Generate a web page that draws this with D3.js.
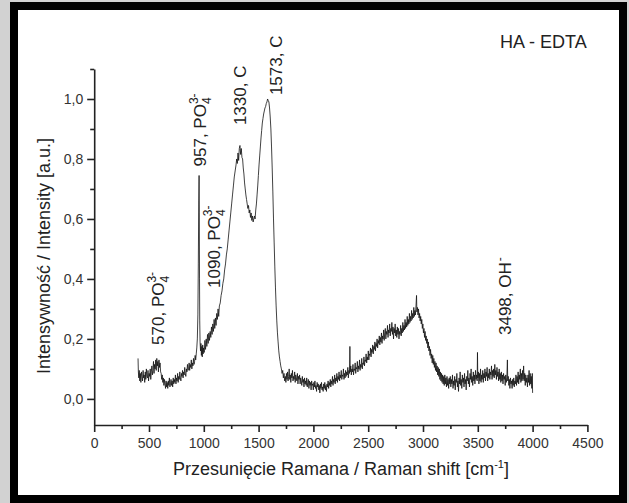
<!DOCTYPE html>
<html>
<head>
<meta charset="utf-8">
<script src="https://cdn.jsdelivr.net/npm/d3@7"></script>
<style>
  body { margin: 0; background: #d2d2d2; }
  svg { display: block; }
  svg text { font-family: "Liberation Sans", Arial, sans-serif; }
</style>
</head>
<body>
<svg id="chart"></svg>
<script>
// Raman spectrum HA - EDTA, [shift cm-1, intensity a.u.]
const spectrum = [
  [400,0.135],[403,0.09],[407,0.07],[411,0.095],[416,0.06],[421,0.085],[426,0.055],[431,0.09],[436,0.075],[441,0.06],
  [446,0.095],[451,0.07],[456,0.08],[461,0.055],[466,0.09],[471,0.065],[476,0.10],[481,0.075],[486,0.07],[491,0.095],
  [496,0.06],[501,0.085],[506,0.075],[511,0.10],[516,0.065],[521,0.09],[526,0.11],[531,0.08],[536,0.095],[541,0.125],
  [546,0.085],[551,0.115],[556,0.10],[561,0.13],[566,0.095],[571,0.135],[576,0.11],[581,0.125],[586,0.09],[591,0.13],
  [596,0.105],[601,0.12],[606,0.09],[611,0.085],[616,0.065],[621,0.08],[626,0.055],[631,0.07],[636,0.045],[641,0.065],
  [646,0.05],[651,0.035],[656,0.06],[661,0.04],[666,0.055],[671,0.035],[676,0.06],[681,0.045],[686,0.07],[691,0.04],
  [696,0.05],[701,0.065],[706,0.045],[711,0.06],[716,0.04],[721,0.07],[726,0.05],[731,0.065],[736,0.055],[741,0.08],
  [746,0.05],[751,0.07],[756,0.06],[761,0.085],[766,0.055],[771,0.075],[776,0.065],[781,0.09],[786,0.07],[791,0.06],
  [796,0.085],[801,0.075],[806,0.095],[811,0.07],[816,0.09],[821,0.08],[826,0.105],[831,0.085],[836,0.075],[841,0.10],
  [846,0.09],[851,0.115],[856,0.095],[861,0.10],[866,0.12],[871,0.095],[876,0.115],[881,0.105],[886,0.13],[891,0.10],
  [896,0.12],[901,0.11],[906,0.135],[911,0.115],[916,0.125],[921,0.145],[926,0.13],[931,0.15],[936,0.17],[941,0.20],
  [946,0.28],[950,0.45],[954,0.66],[957,0.745],[959,0.62],[961,0.40],[963,0.26],[966,0.19],
  [970,0.16],[974,0.185],[978,0.145],[982,0.175],[986,0.14],[990,0.18],[994,0.15],[998,0.17],[1004,0.155],[1010,0.195],
  [1016,0.165],[1022,0.20],[1028,0.175],[1034,0.215],[1040,0.185],[1046,0.22],[1052,0.195],[1058,0.225],[1064,0.205],[1070,0.24],
  [1076,0.215],[1082,0.25],[1088,0.225],[1094,0.265],[1100,0.235],[1106,0.27],[1112,0.245],[1118,0.285],[1124,0.265],[1130,0.30],
  [1136,0.275],[1142,0.31],[1150,0.32],[1158,0.345],[1166,0.36],[1174,0.385],[1182,0.40],[1190,0.43],[1198,0.45],[1206,0.48],
  [1214,0.50],[1222,0.53],[1230,0.56],[1238,0.59],[1246,0.62],[1254,0.65],[1262,0.68],[1270,0.71],[1278,0.74],[1286,0.76],
  [1294,0.78],[1300,0.80],[1306,0.785],[1312,0.82],[1318,0.795],[1324,0.835],[1330,0.845],[1336,0.815],[1342,0.835],[1348,0.805],
  [1354,0.80],[1360,0.77],[1366,0.75],[1372,0.72],[1378,0.70],[1384,0.68],[1390,0.665],[1396,0.65],[1402,0.635],[1408,0.645],
  [1414,0.62],[1420,0.63],[1426,0.605],[1432,0.62],[1438,0.595],[1444,0.61],[1450,0.59],[1456,0.60],[1462,0.61],[1468,0.60],
  [1474,0.63],[1480,0.65],[1486,0.68],[1492,0.71],[1498,0.745],[1504,0.78],[1510,0.81],[1516,0.84],[1522,0.87],[1528,0.895],
  [1534,0.92],[1540,0.935],[1546,0.95],[1552,0.96],[1558,0.97],[1564,0.975],[1570,0.985],[1576,0.99],[1582,1.0],[1588,0.995],
  [1594,0.99],[1600,0.97],[1606,0.94],[1612,0.90],[1618,0.84],[1624,0.77],[1630,0.69],[1636,0.60],[1642,0.52],[1648,0.44],
  [1654,0.37],[1660,0.31],[1666,0.26],[1672,0.22],[1678,0.19],[1684,0.16],[1690,0.14],[1696,0.125],[1702,0.11],[1708,0.10],
  [1714,0.085],[1720,0.095],[1726,0.07],[1732,0.085],[1738,0.06],
  [1744,0.075],[1749,0.055],[1754,0.085],[1759,0.065],[1764,0.09],[1769,0.06],[1774,0.075],[1779,0.10],[1784,0.065],[1789,0.08],
  [1794,0.055],[1799,0.085],[1804,0.07],[1809,0.095],[1814,0.06],[1819,0.075],[1824,0.065],[1829,0.09],[1834,0.055],[1839,0.08],
  [1844,0.07],[1849,0.06],[1854,0.085],[1859,0.05],[1864,0.075],[1869,0.065],[1874,0.08],[1879,0.05],[1884,0.07],[1889,0.06],
  [1894,0.045],[1899,0.075],[1904,0.055],[1909,0.065],[1914,0.04],[1919,0.07],[1924,0.05],[1929,0.06],[1934,0.045],[1939,0.07],
  [1944,0.04],[1949,0.055],[1954,0.065],[1959,0.035],[1964,0.06],[1969,0.045],[1974,0.055],[1979,0.03],[1984,0.06],[1989,0.045],
  [1994,0.05],[1999,0.03],[2004,0.055],[2009,0.04],[2014,0.06],[2019,0.035],[2024,0.045],[2029,0.025],[2034,0.055],[2039,0.04],
  [2044,0.05],[2049,0.03],[2054,0.045],[2059,0.02],[2064,0.05],[2069,0.035],[2074,0.055],[2079,0.03],[2084,0.04],[2089,0.025],
  [2094,0.05],[2099,0.035],[2104,0.055],[2109,0.03],[2114,0.045],[2119,0.025],[2124,0.05],[2129,0.04],[2134,0.06],[2139,0.035],
  [2144,0.055],[2149,0.045],[2154,0.065],[2159,0.04],[2164,0.06],[2169,0.05],[2174,0.075],[2179,0.045],[2184,0.065],[2189,0.055],
  [2194,0.08],[2199,0.05],[2204,0.07],[2209,0.06],[2214,0.085],[2219,0.055],[2224,0.075],[2229,0.065],[2234,0.09],[2239,0.06],
  [2244,0.08],[2249,0.07],[2254,0.095],[2259,0.065],[2264,0.08],[2269,0.075],[2274,0.10],[2279,0.065],[2284,0.085],[2289,0.07],
  [2294,0.095],[2299,0.075],[2304,0.09],[2309,0.08],[2314,0.105],[2319,0.07],[2324,0.095],[2329,0.085],[2333,0.175],[2336,0.09],
  [2341,0.11],[2346,0.08],[2351,0.10],[2356,0.09],[2361,0.115],[2366,0.08],[2371,0.10],[2376,0.095],[2381,0.12],[2386,0.085],
  [2391,0.105],[2396,0.10],[2401,0.125],[2406,0.09],[2411,0.11],[2416,0.10],[2421,0.13],[2426,0.095],[2431,0.115],[2436,0.105],
  [2441,0.135],[2446,0.10],[2451,0.12],[2456,0.115],[2461,0.14],[2466,0.11],[2471,0.13],[2476,0.125],[2481,0.15],[2486,0.12],
  [2491,0.14],[2496,0.13],[2501,0.16],[2506,0.13],[2511,0.15],[2516,0.145],[2521,0.17],[2526,0.14],[2531,0.165],[2536,0.155],
  [2541,0.18],[2546,0.15],[2551,0.175],[2556,0.165],[2561,0.19],[2566,0.16],[2571,0.185],[2576,0.175],[2581,0.20],[2586,0.17],
  [2591,0.195],[2596,0.185],[2601,0.21],[2606,0.18],[2611,0.205],[2616,0.19],[2621,0.22],[2626,0.185],[2631,0.21],[2636,0.20],
  [2641,0.23],[2646,0.195],[2651,0.22],[2656,0.235],[2661,0.20],[2666,0.225],[2671,0.215],[2676,0.245],[2681,0.205],[2686,0.23],
  [2691,0.22],[2696,0.25],[2701,0.21],[2706,0.235],[2711,0.225],[2716,0.255],[2721,0.215],[2726,0.24],[2731,0.20],[2736,0.235],
  [2741,0.22],[2746,0.25],[2751,0.21],[2756,0.23],[2761,0.205],[2766,0.24],[2771,0.215],[2776,0.235],[2781,0.20],[2786,0.225],
  [2791,0.215],[2796,0.245],[2801,0.21],[2806,0.235],[2811,0.22],[2816,0.255],[2821,0.225],[2826,0.245],[2831,0.23],[2836,0.265],
  [2841,0.235],[2846,0.255],[2851,0.24],[2856,0.275],[2861,0.245],[2866,0.265],[2871,0.25],[2876,0.285],[2881,0.255],[2886,0.275],
  [2891,0.26],[2896,0.295],[2901,0.265],[2906,0.285],[2911,0.27],[2916,0.305],[2921,0.275],[2926,0.295],[2931,0.28],[2936,0.31],
  [2941,0.345],[2944,0.29],[2949,0.305],[2954,0.28],[2959,0.30],[2964,0.27],[2969,0.285],[2974,0.26],[2979,0.275],[2984,0.25],
  [2989,0.265],[2994,0.235],[2999,0.25],[3004,0.22],[3009,0.235],[3014,0.205],[3019,0.225],[3024,0.195],[3029,0.21],[3034,0.185],
  [3039,0.20],[3044,0.17],[3049,0.19],[3054,0.16],[3059,0.175],[3064,0.145],[3069,0.165],[3074,0.135],[3079,0.15],[3084,0.12],
  [3089,0.145],[3094,0.115],[3099,0.135],[3104,0.105],[3109,0.125],[3114,0.095],[3119,0.12],[3124,0.09],[3129,0.11],[3134,0.08],
  [3139,0.105],[3144,0.075],[3149,0.10],[3154,0.065],[3159,0.09],[3164,0.06],[3169,0.085],[3174,0.055],[3179,0.08],[3184,0.05],
  [3189,0.075],[3194,0.045],[3199,0.08],[3204,0.05],[3209,0.07],[3214,0.04],[3219,0.075],[3224,0.045],[3229,0.065],[3234,0.035],
  [3239,0.07],[3244,0.05],[3249,0.075],[3254,0.04],[3259,0.065],[3264,0.05],[3269,0.08],[3274,0.035],[3279,0.06],[3284,0.045],
  [3289,0.075],[3294,0.03],[3299,0.065],[3304,0.055],[3309,0.085],[3314,0.04],[3319,0.06],[3324,0.025],[3329,0.07],[3334,0.05],
  [3339,0.09],[3344,0.045],[3349,0.065],[3354,0.035],[3359,0.08],[3364,0.055],[3369,0.07],[3374,0.04],[3379,0.085],[3384,0.05],
  [3389,0.065],[3394,0.03],[3399,0.075],[3404,0.06],[3409,0.095],[3414,0.05],[3419,0.07],[3424,0.04],[3429,0.085],[3434,0.065],
  [3439,0.10],[3444,0.055],[3449,0.075],[3454,0.045],[3459,0.09],[3464,0.06],[3469,0.08],[3474,0.05],[3479,0.095],[3484,0.065],
  [3489,0.08],[3494,0.06],[3497,0.155],[3500,0.07],[3505,0.09],[3510,0.05],[3515,0.085],[3520,0.06],[3525,0.10],[3530,0.055],
  [3535,0.08],[3540,0.065],[3545,0.095],[3550,0.055],[3555,0.085],[3560,0.07],[3565,0.10],[3570,0.06],[3575,0.09],[3580,0.075],
  [3585,0.105],[3590,0.06],[3595,0.085],[3600,0.07],[3605,0.10],[3610,0.065],[3615,0.09],[3620,0.08],[3625,0.11],[3630,0.065],
  [3635,0.095],[3640,0.075],[3645,0.10],[3650,0.07],[3655,0.115],[3660,0.08],[3665,0.095],[3670,0.065],[3675,0.105],[3680,0.075],
  [3685,0.09],[3690,0.06],[3695,0.10],[3700,0.065],[3705,0.085],[3710,0.055],[3715,0.09],[3720,0.06],[3725,0.08],[3730,0.05],
  [3735,0.085],[3740,0.065],[3745,0.075],[3750,0.045],[3755,0.08],[3760,0.055],[3765,0.07],[3770,0.13],[3773,0.06],[3778,0.075],
  [3783,0.045],[3788,0.065],[3793,0.035],[3798,0.07],[3803,0.05],[3808,0.06],[3813,0.035],[3818,0.065],[3823,0.045],[3828,0.07],
  [3833,0.04],[3838,0.06],[3843,0.05],[3848,0.08],[3853,0.045],[3858,0.075],[3863,0.055],[3868,0.09],[3873,0.05],[3878,0.08],
  [3883,0.065],[3888,0.10],[3893,0.055],[3898,0.085],[3903,0.06],[3908,0.095],[3913,0.065],[3918,0.11],[3923,0.06],[3928,0.085],
  [3933,0.045],[3938,0.08],[3943,0.055],[3948,0.07],[3953,0.04],[3958,0.08],[3963,0.055],[3968,0.095],[3973,0.045],[3978,0.085],
  [3983,0.05],[3988,0.075],[3993,0.035],[3997,0.085],[4000,0.02]
];

const xTicks = [0, 500, 1000, 1500, 2000, 2500, 3000, 3500, 4000, 4500];
const xMinorTicks = [250, 750, 1250, 1750, 2250, 2750, 3250, 3750, 4250];
const yTicks = [0, 0.2, 0.4, 0.6, 0.8, 1.0];
const yMinorTicks = [0.1, 0.3, 0.5, 0.7, 0.9, 1.1];

// peak labels: text, subscript, superscript, where the label starts (shift, intensity)
const peakLabels = [
  { text: '570, PO', sub: '4', sup: '3-', shift: 580, level: 0.18 },
  { text: '957, PO', sub: '4', sup: '3-', shift: 965, level: 0.775 },
  { text: '1090, PO', sub: '4', sup: '3-', shift: 1090, level: 0.37 },
  { text: '1330, C', sub: '', sup: '', shift: 1330, level: 0.913 },
  { text: '1573, C', sub: '', sup: '', shift: 1660, level: 1.013 },
  { text: '3498, OH', sub: '', sup: '-', shift: 3745, level: 0.213 }
];

document.addEventListener('DOMContentLoaded', function () {
    drawSpectrum();
});

function drawSpectrum() {
    const W = 629, H = 503;
    const font = '"Liberation Sans", Arial, sans-serif';
    const svg = d3.select('#chart').attr('width', W).attr('height', H);

    // picture frame
    svg.append('rect').attr('x', 0).attr('y', 0).attr('width', W).attr('height', H).attr('fill', '#d2d2d2');
    svg.append('rect').attr('x', 14).attr('y', 6).attr('width', 609).attr('height', 493)
        .attr('fill', '#fff').attr('stroke', '#000').attr('stroke-width', 8);

    const xScale = d3.scaleLinear().domain([0, 4500]).range([94.2, 587.4]);
    const yScale = d3.scaleLinear().domain([-0.087, 1.1]).range([425, 69]);
    const fmt = d => d.toFixed(1).replace('.', ',');

    // x axis
    svg.append('g').attr('transform', 'translate(0,425)')
        .call(d3.axisBottom(xScale).tickValues(xTicks).tickSize(7).tickSizeOuter(0).tickPadding(6).tickFormat(d3.format('d')));
    svg.append('g').attr('transform', 'translate(0,425)')
        .call(d3.axisBottom(xScale).tickValues(xMinorTicks).tickSize(4).tickFormat(''))
        .select('.domain').remove();

    // y axis
    svg.append('g').attr('transform', 'translate(94.2,0)')
        .call(d3.axisLeft(yScale).tickValues(yTicks).tickSize(7).tickSizeOuter(0).tickPadding(4).tickFormat(fmt));
    svg.append('g').attr('transform', 'translate(94.2,0)')
        .call(d3.axisLeft(yScale).tickValues(yMinorTicks).tickSize(4).tickFormat(''))
        .select('.domain').remove();

    svg.selectAll('g').attr('font-family', font);
    svg.selectAll('.domain, .tick line').attr('stroke', '#222').attr('stroke-width', 1.6);
    svg.selectAll('.tick text').attr('font-size', 14).attr('fill', '#333');

    // spectrum
    const line = d3.line().x(d => xScale(d[0])).y(d => yScale(d[1]));
    svg.append('path').datum(spectrum)
        .attr('d', line).attr('fill', 'none').attr('stroke', '#111').attr('stroke-width', 0.8);

    // peak labels, rotated; sub and sup stacked like in Origin
    peakLabels.forEach(p => {
        const px = xScale(p.shift), py = yScale(p.level);
        const t = svg.append('text')
            .attr('transform', `translate(${px},${py}) rotate(-90)`)
            .attr('dy', '0.36em').attr('font-size', 17).attr('fill', '#222')
            .text(p.text);
        if (p.sub) {
            t.append('tspan').attr('font-size', 12).attr('dy', 5).text(p.sub);
        }
        if (p.sup) {
            t.append('tspan').attr('font-size', 12).attr('dx', p.sub ? -6.7 : 1).attr('dy', p.sub ? -13 : -7).text(p.sup);
        }
    });

    // sample name
    svg.append('text').attr('x', 500).attr('y', 48).attr('font-size', 18).attr('fill', '#222').text('HA - EDTA');

    // axis titles
    const xt = svg.append('text').attr('x', 341).attr('y', 475).attr('text-anchor', 'middle')
        .attr('font-size', 18).attr('fill', '#222').text('Przesunięcie Ramana / Raman shift [cm');
    xt.append('tspan').attr('font-size', 11).attr('dy', -7).text('-1');
    xt.append('tspan').attr('dy', 7).text(']');

    svg.append('text').attr('transform', 'translate(50,256) rotate(-90)').attr('text-anchor', 'middle')
        .attr('font-size', 18).attr('fill', '#222').text('Intensywność / Intensity [a.u.]');
}
</script>
</body>
</html>
